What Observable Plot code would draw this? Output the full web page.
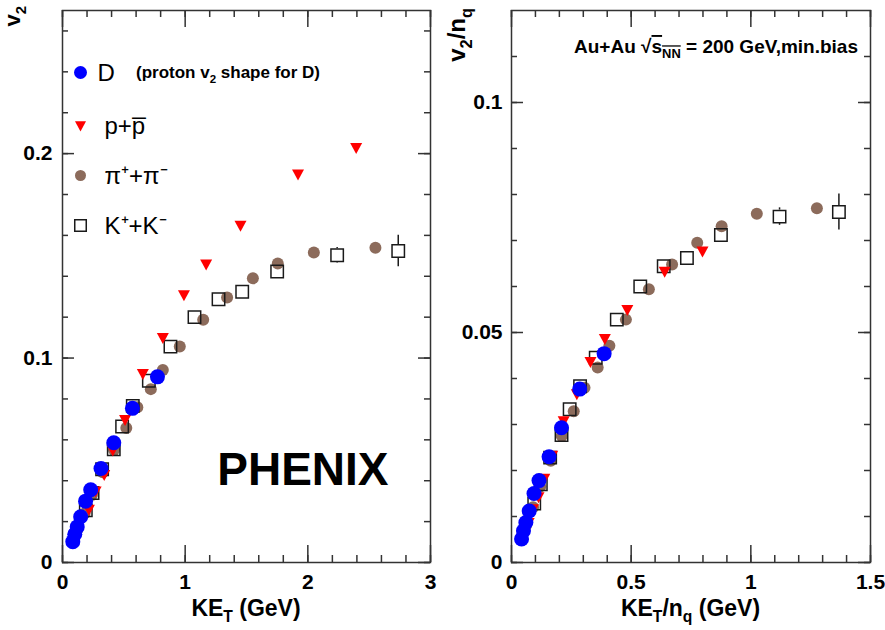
<!DOCTYPE html>
<html>
<head>
<meta charset="utf-8">
<script src="https://cdn.jsdelivr.net/npm/d3@7"></script>
<script src="https://cdn.jsdelivr.net/npm/@observablehq/plot@0.6"></script>
<style>
  html, body { margin: 0; padding: 0; background: #fff; }
  #chart { position: relative; width: 885px; height: 630px; overflow: hidden; }
  #chart svg { position: absolute; top: 0; }
</style>
</head>
<body>
<div id="chart"></div>
<script>
// ---------------- DATA ----------------
// Left panel: v2 vs KE_T (GeV)
const pionKE = [0.12, 0.18, 0.24, 0.328, 0.42, 0.52, 0.61, 0.72, 0.818, 0.956, 1.147, 1.342, 1.552, 1.755, 2.049, 2.551];
const pionV2 = [0.016, 0.024, 0.033, 0.0442, 0.055, 0.0658, 0.0759, 0.0848, 0.0942, 0.1056, 0.1187, 0.1296, 0.139, 0.1462, 0.1516, 0.154];

const kaonKE = [0.19, 0.245, 0.323, 0.418, 0.486, 0.573, 0.704, 0.88, 1.076, 1.272, 1.465, 1.75, 2.239, 2.737];
const kaonV2 = [0.0255, 0.034, 0.0456, 0.0554, 0.0665, 0.0766, 0.0889, 0.1056, 0.12, 0.1288, 0.1324, 0.1423, 0.1503, 0.1524];
const kaonErr = [0, 0, 0, 0, 0, 0, 0, 0, 0, 0, 0, 0, 0.0038, 0.0077];

const protonKE = [0.215, 0.27, 0.34, 0.41, 0.51, 0.655, 0.818, 0.99, 1.171, 1.451, 1.92, 2.394];
const protonV2 = [0.026, 0.035, 0.043, 0.055, 0.07, 0.0925, 0.11, 0.131, 0.146, 0.165, 0.19, 0.203];

const dKE = [0.084, 0.1, 0.12, 0.148, 0.188, 0.23, 0.314, 0.418, 0.57, 0.774];
const dV2 = [0.0102, 0.0138, 0.0174, 0.0224, 0.030, 0.0356, 0.046, 0.0586, 0.0754, 0.0908];

// Right panel: v2/nq vs KE_T/nq (GeV)
const pionKEnq = [0.06, 0.09, 0.12, 0.164, 0.21, 0.26, 0.305, 0.36, 0.409, 0.478, 0.574, 0.671, 0.776, 0.878, 1.025, 1.276];
const pionV2nq = [0.008, 0.012, 0.0165, 0.0221, 0.0275, 0.0329, 0.038, 0.0424, 0.0471, 0.0528, 0.0594, 0.0648, 0.0695, 0.0731, 0.0758, 0.077];

const kaonKEnq = [0.095, 0.1225, 0.1615, 0.209, 0.243, 0.2865, 0.352, 0.44, 0.538, 0.636, 0.733, 0.875, 1.12, 1.368];
const kaonV2nq = [0.0128, 0.017, 0.0228, 0.0277, 0.0333, 0.0383, 0.0445, 0.0528, 0.06, 0.0644, 0.0662, 0.0712, 0.0752, 0.0762];
const kaonErrNq = [0, 0, 0, 0, 0, 0, 0, 0, 0, 0, 0, 0, 0.0019, 0.0039];

const protonKEnq = [0.0717, 0.09, 0.113, 0.137, 0.17, 0.218, 0.273, 0.33, 0.39, 0.484, 0.64, 0.798];
const protonV2nq = [0.0087, 0.0117, 0.0143, 0.0183, 0.0233, 0.0308, 0.0367, 0.0437, 0.0487, 0.055, 0.0633, 0.0677];

const dKEnq = [0.042, 0.05, 0.06, 0.074, 0.094, 0.115, 0.157, 0.209, 0.285, 0.387];
const dV2nq = [0.0051, 0.0069, 0.0087, 0.0112, 0.015, 0.0178, 0.023, 0.0293, 0.0377, 0.0454];

// Tick labels
const leftXTicks = [0, 1, 2, 3];
const leftYTicks = [0, 0.1, 0.2];
const rightXTicks = [0, 0.5, 1, 1.5];
const rightYTicks = [0, 0.05, 0.1];

// Legend
const legendLabels = ["D", "p+p\u0305", "\u03C0\u207A+\u03C0\u207B", "K\u207A+K\u207B"];
const experiment = "PHENIX";

// ---------------- STYLE ----------------
const H = 630, MT = 10, MB = 68;
const FONT = "'Liberation Sans', Arial, Helvetica, sans-serif";
const C = { pion: "#8c6b5b", proton: "#ff0000", d: "#0000ff", kaon: "#1a1a1a", axis: "#333333" };

const triDown = {
  draw(ctx, size) {
    const r = Math.sqrt(size / Math.PI);
    ctx.moveTo(-r * 1.2, -r * 0.9);
    ctx.lineTo(r * 1.2, -r * 0.9);
    ctx.lineTo(0, r * 1.3);
    ctx.closePath();
  }
};

const rows = (xs, ys, es) => xs.map((x, i) => ({ x, y: ys[i], err: es ? es[i] : 0 }));

function tickRules(xMinor, xMajor, yMinor, yMajor, pw, ph) {
  const st = { stroke: C.axis, strokeWidth: 1.5 };
  return [
    Plot.ruleY(yMinor, { ...st, insetRight: pw - 6 }),
    Plot.ruleY(yMinor, { ...st, insetLeft: pw - 6 }),
    Plot.ruleY(yMajor, { ...st, insetRight: pw - 12 }),
    Plot.ruleY(yMajor, { ...st, insetLeft: pw - 12 }),
    Plot.ruleX(xMinor, { ...st, insetTop: ph - 7 }),
    Plot.ruleX(xMinor, { ...st, insetBottom: ph - 7 }),
    Plot.ruleX(xMajor, { ...st, insetTop: ph - 17 }),
    Plot.ruleX(xMajor, { ...st, insetBottom: ph - 17 })
  ];
}

function seriesMarks(pions, kaons, protons, ds) {
  const errs = kaons.filter(d => d.err > 0);
  return [
    Plot.dot(pions, { x: "x", y: "y", r: 6, fill: C.pion }),
    Plot.ruleX(errs, { x: "x", y1: d => d.y + d.err, y2: "y", insetBottom: 6.5, stroke: C.kaon, strokeWidth: 1.5 }),
    Plot.ruleX(errs, { x: "x", y1: "y", y2: d => d.y - d.err, insetTop: 6.5, stroke: C.kaon, strokeWidth: 1.5 }),
    Plot.dot(kaons, { x: "x", y: "y", r: 7, symbol: "square", fill: "none", stroke: C.kaon, strokeWidth: 1.5 }),
    Plot.dot(protons, { x: "x", y: "y", r: 5, symbol: triDown, fill: C.proton }),
    Plot.dot(ds, { x: "x", y: "y", r: 7.5, fill: C.d })
  ];
}

function addText(svg, { x, y, anchor = "middle", size, weight = "bold", rotate = 0, parts }) {
  const t = d3.select(svg).append("text")
    .attr("transform", `translate(${x},${y}) rotate(${rotate})`)
    .attr("text-anchor", anchor)
    .attr("font-family", FONT)
    .attr("font-weight", weight)
    .attr("font-size", size)
    .attr("fill", "#000");
  let shift = 0;
  for (const [txt, kind, deco] of parts) {
    const target = kind === "sub" ? size * 0.28 : kind === "sup" ? -size * 0.35 : 0;
    const s = t.append("tspan").text(txt)
      .attr("dy", target - shift)
      .attr("font-size", kind === "n" ? size : size * 0.68);
    if (deco) s.style("text-decoration", "overline");
    shift = target;
  }
  return t;
}

const chart = document.getElementById("chart");

// ---------------- LEFT PANEL ----------------
{
  const W = 440, ML = 62, MR = 10;
  const pw = W - ML - MR, ph = H - MT - MB;
  const legendMarks = [];
  const rowY = [62, 115, 165, 215];
  const symbols = [
    { r: 6.5, fill: C.d },
    { r: 4.6, symbol: triDown, fill: C.proton },
    { r: 5.5, fill: C.pion },
    { r: 6.5, symbol: "square", fill: "none", stroke: C.kaon, strokeWidth: 1.5 }
  ];
  legendLabels.forEach((lab, i) => {
    legendMarks.push(Plot.dot([lab], { frameAnchor: "top-left", dx: 18, dy: rowY[i], ...symbols[i] }));
    legendMarks.push(Plot.text([lab], { text: d => d, frameAnchor: "top-left", dx: i === 0 ? 35 : 42, dy: rowY[i] + 1,
      textAnchor: "start", lineAnchor: "middle", fontSize: 24, fontWeight: "normal", fill: "#000" }));
  });

  const svg = Plot.plot({
    width: W, height: H,
    marginLeft: ML, marginRight: MR, marginTop: MT, marginBottom: MB,
    style: { fontFamily: FONT, fontSize: "21px", fontWeight: "bold", color: "#000", background: "transparent" },
    x: { domain: [0, 3] },
    y: { domain: [0, 0.27] },
    marks: [
      Plot.axisX({ ticks: leftXTicks, tickSize: 0, tickPadding: 12, tickFormat: d => String(d), label: null, fontSize: 21 }),
      Plot.axisY({ ticks: leftYTicks, tickSize: 0, tickPadding: 10, tickFormat: d => String(d), label: null, fontSize: 21 }),
      ...tickRules(d3.range(0, 3.01, 0.2), leftXTicks, d3.range(0, 0.265, 0.02), leftYTicks, pw, ph),
      ...seriesMarks(rows(pionKE, pionV2), rows(kaonKE, kaonV2, kaonErr), rows(protonKE, protonV2), rows(dKE, dV2)),
      ...legendMarks,
      Plot.text([experiment], { text: d => d, frameAnchor: "bottom-right", dx: -42, dy: -92, textAnchor: "end",
        lineAnchor: "middle", fontSize: 46, fontWeight: "bold", fill: "#000" }),
      Plot.frame({ stroke: C.axis, strokeWidth: 1.5 })
    ]
  });
  svg.style.left = "0px";
  addText(svg, { x: ML + pw / 2, y: 616, size: 23, parts: [["KE", "n"], ["T", "sub"], [" (GeV)", "n"]] });
  addText(svg, { x: 20, y: 6, anchor: "end", size: 22, rotate: -90, parts: [["v", "n"], ["2", "sub"]] });
  addText(svg, { x: 136, y: 78, anchor: "start", size: 17, parts: [["(proton v", "n"], ["2", "sub"], [" shape for D)", "n"]] });
  chart.appendChild(svg);
}

// ---------------- RIGHT PANEL ----------------
{
  const W = 445, ML = 71, MR = 15;
  const pw = W - ML - MR, ph = H - MT - MB;
  const svg = Plot.plot({
    width: W, height: H,
    marginLeft: ML, marginRight: MR, marginTop: MT, marginBottom: MB,
    style: { fontFamily: FONT, fontSize: "21px", fontWeight: "bold", color: "#000", background: "transparent" },
    x: { domain: [0, 1.5] },
    y: { domain: [0, 0.12] },
    marks: [
      Plot.axisX({ ticks: rightXTicks, tickSize: 0, tickPadding: 12, tickFormat: d => String(d), label: null, fontSize: 21 }),
      Plot.axisY({ ticks: rightYTicks, tickSize: 0, tickPadding: 9, tickFormat: d => String(d), label: null, fontSize: 21 }),
      ...tickRules(d3.range(0, 1.51, 0.1), rightXTicks, d3.range(0, 0.115, 0.01), rightYTicks, pw, ph),
      ...seriesMarks(rows(pionKEnq, pionV2nq), rows(kaonKEnq, kaonV2nq, kaonErrNq), rows(protonKEnq, protonV2nq), rows(dKEnq, dV2nq)),
      Plot.frame({ stroke: C.axis, strokeWidth: 1.5 })
    ]
  });
  svg.style.left = "440px";
  addText(svg, { x: ML + pw / 2, y: 616, size: 23, parts: [["KE", "n"], ["T", "sub"], ["/n", "n"], ["q", "sub"], [" (GeV)", "n"]] });
  addText(svg, { x: 25, y: 8, anchor: "end", size: 24, rotate: -90, parts: [["v", "n"], ["2", "sub"], ["/n", "n"], ["q", "sub"]] });
  addText(svg, { x: 418, y: 53, anchor: "end", size: 19, parts: [["Au+Au \u221A", "n"], ["s", "n", true], ["NN", "sub", true], [" = 200 GeV,min.bias", "n"]] });
  chart.appendChild(svg);
}
</script>
</body>
</html>
